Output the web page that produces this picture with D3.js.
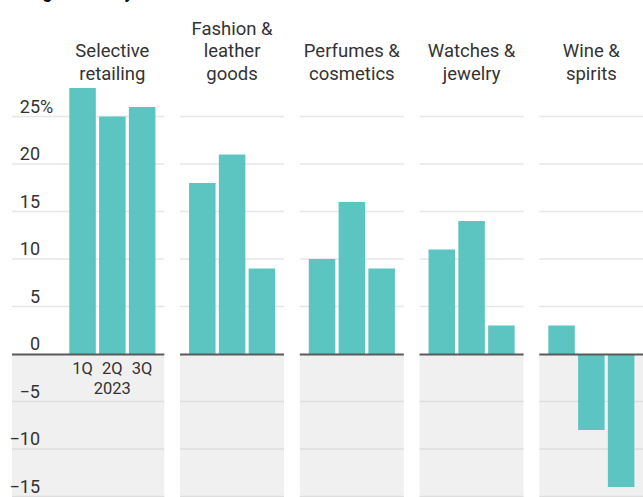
<!DOCTYPE html>
<html>
<head>
<meta charset="utf-8">
<script src="https://cdn.jsdelivr.net/npm/d3@7"></script>
<style>
  html, body { margin: 0; padding: 0; background: #fff; }
  svg { display: block; font-family: Roboto, "Open Sans", sans-serif; }
</style>
</head>
<body>
<svg id="chart" width="643" height="497"></svg>
<script>
// Segments and their wrapped header lines
const categories = ["Selective retailing", "Fashion & leather goods", "Perfumes & cosmetics", "Watches & jewelry", "Wine & spirits"];
const categoryLines = [["Selective", "retailing"], ["Fashion &", "leather", "goods"], ["Perfumes &", "cosmetics"], ["Watches &", "jewelry"], ["Wine &", "spirits"]];

// Quarters shown in each panel
const quarters = ["1Q", "2Q", "3Q"];
const yearLabel = "2023";

// Organic revenue change from a year earlier, %
const q1Values = [28, 18, 10, 11, 3];
const q2Values = [25, 21, 16, 14, -8];
const q3Values = [26, 9, 9, 3, -14];

// Value-axis ticks
const yTicks = [-15, -10, -5, 0, 5, 10, 15, 20, 25];

const subtitle = "Change from a year earlier";

const W = 643, H = 497;
const svg = d3.select("#chart");

const teal = "#5cc5c1";
const textColor = "#333";

// Panel placement
const outer = d3.scaleBand()
  .domain(categories)
  .range([60.3, 643.3])
  .paddingInner(0.1315)
  .paddingOuter(0);

// Bar placement inside a panel
const inner = d3.scaleBand()
  .domain(quarters)
  .range([9, 95.1])
  .paddingInner(0.11)
  .paddingOuter(0);

const y = d3.scaleLinear().domain([-15, 25]).range([496.5, 116.5]);

const seriesByQuarter = { "1Q": q1Values, "2Q": q2Values, "3Q": q3Values };

// Subtitle (sits mostly above the visible frame)
svg.append("text")
  .attr("x", 1)
  .attr("y", -2.5)
  .attr("font-size", 18)
  .attr("font-weight", 700)
  .attr("fill", "#111")
  .text(subtitle);

categories.forEach((cat, i) => {
  const left = outer(cat);
  const panelX0 = i === 0 ? 12 : left;
  const panelX1 = left + outer.bandwidth();
  const g = svg.append("g");

  // Shaded area below zero
  g.append("rect")
    .attr("x", panelX0)
    .attr("y", y(0))
    .attr("width", panelX1 - panelX0)
    .attr("height", H - y(0))
    .attr("fill", "#f0f0f0");

  // Gridlines
  g.selectAll("line.grid")
    .data(yTicks.filter(t => t !== 0))
    .join("line")
    .attr("class", "grid")
    .attr("x1", panelX0)
    .attr("x2", panelX1)
    .attr("y1", d => y(d))
    .attr("y2", d => y(d))
    .attr("stroke", d => d < 0 ? "#dedede" : "#e6e6e6")
    .attr("stroke-width", 1.5);

  // Bars
  const rows = quarters.map(q => ({ q, v: seriesByQuarter[q][i] }));
  g.selectAll("rect.bar")
    .data(rows)
    .join("rect")
    .attr("class", "bar")
    .attr("x", d => left + inner(d.q))
    .attr("width", inner.bandwidth())
    .attr("y", d => y(Math.max(0, d.v)))
    .attr("height", d => Math.abs(y(d.v) - y(0)))
    .attr("fill", teal);

  // Zero baseline
  g.append("line")
    .attr("x1", panelX0)
    .attr("x2", panelX1)
    .attr("y1", y(0) + 0.5)
    .attr("y2", y(0) + 0.5)
    .attr("stroke", "#5a5a5a")
    .attr("stroke-width", 2);

  // Panel header, bottom-aligned
  const cx = left + inner(quarters[0]) + (inner(quarters[2]) + inner.bandwidth() - inner(quarters[0])) / 2;
  const lines = categoryLines[i];
  const lh = 22.5;
  const lastBaseline = 79.5;
  g.selectAll("text.head")
    .data(lines)
    .join("text")
    .attr("class", "head")
    .attr("text-anchor", "middle")
    .attr("font-size", 18.5)
    .attr("fill", textColor)
    .attr("x", cx)
    .attr("y", (d, k) => lastBaseline - (lines.length - 1 - k) * lh)
    .text(d => d);
});

// Value-axis labels
const yAxis = svg.append("g");
yAxis.selectAll("text.tick")
  .data(yTicks)
  .join("text")
  .attr("class", "tick")
  .attr("x", 40)
  .attr("y", d => y(d) - 4)
  .attr("text-anchor", "end")
  .attr("font-size", 18)
  .attr("fill", textColor)
  .text(d => d < 0 ? "\u2212" + Math.abs(d) : String(d));

yAxis.append("text")
  .attr("x", 40)
  .attr("y", y(yTicks[yTicks.length - 1]) - 4)
  .attr("font-size", 18)
  .attr("fill", textColor)
  .text("%");

// Quarter labels under the first panel
const first = categories[0];
svg.append("g")
  .selectAll("text")
  .data(quarters)
  .join("text")
  .attr("x", d => outer(first) + inner(d) + inner.bandwidth() / 2)
  .attr("y", 373.5)
  .attr("text-anchor", "middle")
  .attr("font-size", 16.5)
  .attr("fill", textColor)
  .text(d => d);

svg.append("text")
  .attr("x", outer(first) + inner(quarters[1]) + inner.bandwidth() / 2)
  .attr("y", 394)
  .attr("text-anchor", "middle")
  .attr("font-size", 16.5)
  .attr("fill", textColor)
  .text(yearLabel);
</script>
</body>
</html>
